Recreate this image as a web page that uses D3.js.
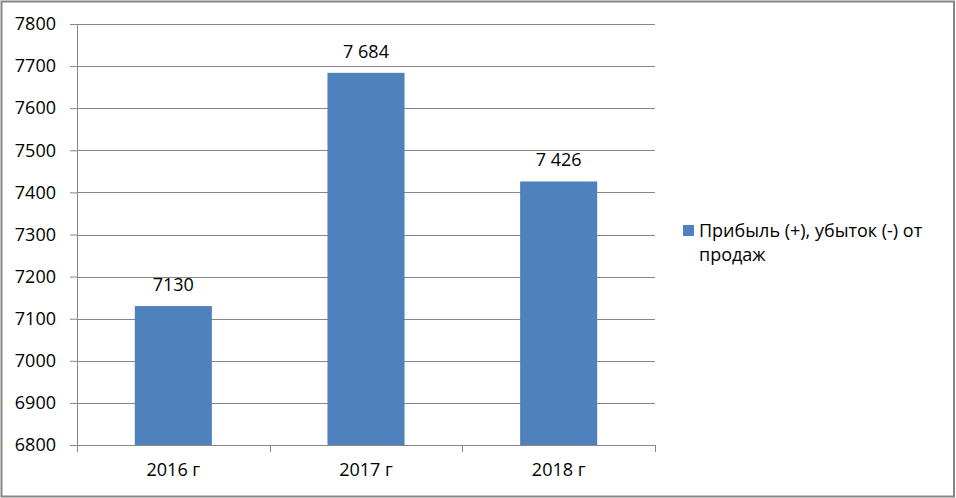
<!DOCTYPE html>
<html>
<head>
<meta charset="utf-8">
<script src="https://cdn.jsdelivr.net/npm/d3@7"></script>
<style>
  body { margin: 0; background: #fff; }
  text { font-family: "Open Sans", sans-serif; fill: #000; }
</style>
</head>
<body>
<script>
(function () {
  'use strict';

  // data
  const years = ["2016 г", "2017 г", "2018 г"];
  const profit = [7130, 7684, 7426];
  const profitLabels = ["7130", "7 684", "7 426"];
  const yTicks = [6800, 6900, 7000, 7100, 7200, 7300, 7400, 7500, 7600, 7700, 7800];
  const seriesName = ["Прибыль (+), убыток (-) от", "продаж"];

  const width = 956, height = 498;
  const left = 77, right = 655, top = 24, bottom = 445;
  const barColor = "#4f81bd";
  const gridColor = "#868686";
  const fontSize = 18;

  const svg = d3.select("body").append("svg")
    .attr("width", width)
    .attr("height", height);

  // outer frame
  svg.append("rect")
    .attr("x", 1.5).attr("y", 1.5)
    .attr("width", width - 3.5).attr("height", height - 3)
    .attr("fill", "#fff")
    .attr("stroke", gridColor)
    .attr("stroke-width", 2);

  const x = d3.scaleBand()
    .domain(years)
    .range([left, right])
    .paddingInner(0.6)
    .paddingOuter(0.3);

  const y = d3.scaleLinear()
    .domain([6800, 7800])
    .range([bottom, top]);

  // value axis
  const yAxis = svg.append("g")
    .attr("transform", "translate(" + left + ",0)")
    .call(d3.axisLeft(y).tickValues(yTicks).tickSize(7).tickPadding(14).tickFormat(d3.format("d")));
  yAxis.select(".domain").remove();
  yAxis.selectAll(".tick line").attr("stroke", gridColor);
  yAxis.selectAll(".tick text").attr("font-size", fontSize).attr("font-family", "Open Sans").attr("fill", "#000");

  // gridlines
  svg.append("g").selectAll("line")
    .data(yTicks)
    .enter().append("line")
      .attr("x1", left).attr("x2", right)
      .attr("y1", d => Math.round(y(d)) + 0.5)
      .attr("y2", d => Math.round(y(d)) + 0.5)
      .attr("stroke", gridColor);

  svg.append("line")
    .attr("x1", left + 0.5).attr("x2", left + 0.5)
    .attr("y1", top).attr("y2", bottom)
    .attr("stroke", gridColor);

  // category ticks at band boundaries
  const bounds = d3.range(years.length + 1).map(i => left + i * (right - left) / years.length);
  svg.append("g").selectAll("line")
    .data(bounds)
    .enter().append("line")
      .attr("x1", d => Math.round(d) + 0.5).attr("x2", d => Math.round(d) + 0.5)
      .attr("y1", bottom).attr("y2", bottom + 7)
      .attr("stroke", gridColor);

  // bars
  svg.append("g").selectAll("rect")
    .data(profit)
    .enter().append("rect")
      .attr("x", (d, i) => x(years[i]))
      .attr("y", d => y(d))
      .attr("width", x.bandwidth())
      .attr("height", d => bottom - y(d))
      .attr("fill", barColor);

  // value labels
  svg.append("g").selectAll("text")
    .data(profit)
    .enter().append("text")
      .attr("x", (d, i) => x(years[i]) + x.bandwidth() / 2)
      .attr("y", d => y(d) - 15)
      .attr("text-anchor", "middle")
      .attr("font-size", fontSize)
      .text((d, i) => profitLabels[i]);

  // category labels
  svg.append("g").selectAll("text")
    .data(years)
    .enter().append("text")
      .attr("x", d => x(d) + x.bandwidth() / 2)
      .attr("y", 476)
      .attr("text-anchor", "middle")
      .attr("font-size", fontSize)
      .text(d => d);

  // legend
  const legend = svg.append("g");
  legend.append("rect")
    .attr("x", 683).attr("y", 225)
    .attr("width", 11).attr("height", 11)
    .attr("fill", barColor);
  legend.selectAll("text")
    .data(seriesName)
    .enter().append("text")
      .attr("x", 699)
      .attr("y", (d, i) => 237 + i * 24)
      .attr("font-size", fontSize)
      .text(d => d);
}());
</script>
</body>
</html>
